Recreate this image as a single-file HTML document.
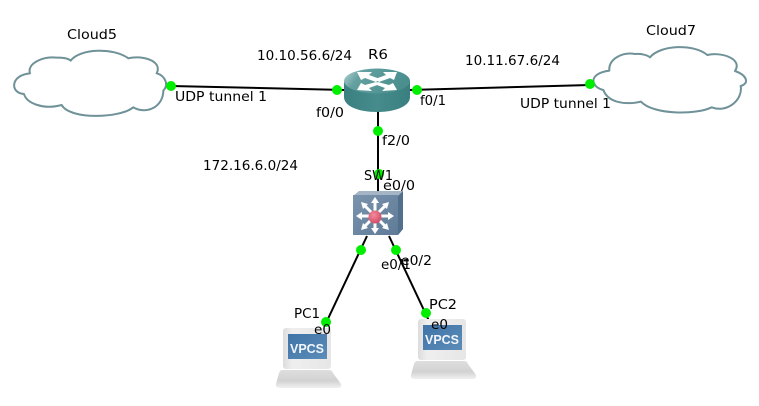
<!DOCTYPE html>
<html><head><meta charset="utf-8"><style>
html,body{margin:0;padding:0;background:#fff;width:759px;height:406px;overflow:hidden}
svg{display:block}
text{font-family:"DejaVu Sans","Liberation Sans",sans-serif;font-size:13.5px;fill:#000}
</style></head><body>
<svg width="759" height="406" viewBox="0 0 759 406" xmlns="http://www.w3.org/2000/svg">
<defs>
<linearGradient id="rt" x1="0" y1="0" x2="1" y2="0.3"><stop offset="0" stop-color="#b9d6d6"/><stop offset=".3" stop-color="#64a0a0"/><stop offset="1" stop-color="#4a8e8e"/></linearGradient>
<linearGradient id="rs" x1="0" y1="0" x2="1" y2="0"><stop offset="0" stop-color="#3a8080"/><stop offset=".5" stop-color="#468c8c"/><stop offset="1" stop-color="#3a7f7f"/></linearGradient>
<linearGradient id="sw" x1="0" y1="0" x2="1" y2="1"><stop offset="0" stop-color="#7b93ad"/><stop offset="1" stop-color="#5f7b97"/></linearGradient>
<linearGradient id="base" x1="0" y1="0" x2="0" y2="1"><stop offset="0" stop-color="#dedede"/><stop offset=".6" stop-color="#d2d2d2"/><stop offset="1" stop-color="#f0f0f0"/></linearGradient>
<linearGradient id="mon" x1="0" y1="0" x2="1" y2="0"><stop offset="0" stop-color="#dcdcdc"/><stop offset=".2" stop-color="#efefef"/><stop offset="1" stop-color="#e6e6e6"/></linearGradient>
<linearGradient id="scr" x1="0" y1="0" x2="1" y2="1"><stop offset="0" stop-color="#3f74a8"/><stop offset="1" stop-color="#5c8cb8"/></linearGradient>
<radialGradient id="red" cx=".4" cy=".35" r=".7"><stop offset="0" stop-color="#f58a9c"/><stop offset="1" stop-color="#cf4a64"/></radialGradient>
<g id="vpcs">
<path d="M4,41 H51 Q54,41 55,44 L63,55 Q64,59 59,59 H3 Q-3,59 -2,55 L1,44 Q2,41 4,41 Z" fill="url(#base)"/>
<rect x="5" y="-1" width="48" height="41" rx="3" fill="url(#mon)"/>
<rect x="10" y="5" width="39" height="25" fill="url(#scr)"/>
<text x="12" y="24" style="font-family:'Liberation Sans',sans-serif;font-size:13px;font-weight:bold;fill:#f2f6fa" textLength="34" lengthAdjust="spacingAndGlyphs">VPCS</text>
</g>
</defs>

<!-- clouds -->
<g transform="translate(0,20) scale(.3333)" fill="#fff" stroke="#6f9198" stroke-width="6" stroke-linejoin="round">
<path d="M90,160 C80,130 130,108 170,113 C185,112 205,115 212,122 C240,85 340,82 385,115 C420,105 490,120 470,160 C490,165 510,190 490,212 C490,260 440,285 400,262 C360,295 210,300 185,255 C130,270 80,250 72,222 C30,220 30,165 90,160 Z"/>
</g>
<g transform="translate(570,20) scale(.3333)" fill="#fff" stroke="#6f9198" stroke-width="6" stroke-linejoin="round">
<path d="M118,152 C115,115 160,95 195,102 C212,100 232,105 240,112 C270,75 370,70 412,105 C450,95 520,115 495,153 C530,165 540,190 512,198 C520,240 470,280 425,262 C380,285 250,285 213,245 C170,255 115,250 100,210 C60,200 55,160 118,152 Z"/>
</g>

<!-- links -->
<g stroke="#000" stroke-width="2" fill="none">
<line x1="171" y1="86" x2="345" y2="90"/>
<line x1="409" y1="90" x2="590" y2="85"/>
<line x1="378" y1="110" x2="378" y2="196"/>
<line x1="367" y1="236" x2="326" y2="323"/>
<line x1="389" y1="236" x2="430" y2="323"/>
</g>

<!-- router -->
<path d="M344,81 V97 C344,106 358,112 377,112 C396,112 410,106 410,97 V81 Z" fill="url(#rs)"/>
<ellipse cx="377" cy="81" rx="33" ry="12.5" fill="url(#rt)"/>
<g fill="#fff">
<path d="M357,72 L372,72 L369,75 L380,79 L376,82 L365,78 L361,80 Z"/>
<path d="M397,90 L382,91 L385,88 L374,84 L378,82 L389,85 L393,83 Z"/>
<path d="M397,72 L383,72 L386,75 L375,79 L379,82 L390,78 L394,80 Z"/>
<path d="M357,90 L372,91 L369,88 L380,84 L376,82 L365,85 L361,83 Z"/>
</g>

<!-- switch -->
<path d="M353,196 L359,191 H403 V229 L398,235 Z" fill="#a5b5c6"/>
<path d="M398,196 L403,191 V229 L398,235 Z" fill="#52708c"/>
<rect x="353" y="195" width="45" height="40" fill="url(#sw)"/>
<g stroke="#fff" stroke-width="3" fill="#fff">
<line x1="375" y1="216" x2="375" y2="202"/><line x1="375" y1="216" x2="375" y2="230"/>
<line x1="375" y1="216" x2="359" y2="216"/><line x1="375" y1="216" x2="391" y2="216"/>
<line x1="375" y1="216" x2="364" y2="205"/><line x1="375" y1="216" x2="386" y2="205"/>
<line x1="375" y1="216" x2="364" y2="227"/><line x1="375" y1="216" x2="386" y2="227"/>
</g>
<g fill="#fff" stroke="none">
<path d="M375,197 L379,203 H371 Z"/><path d="M375,234 L379,228 H371 Z"/>
<path d="M356,216 L362,212 V220 Z"/><path d="M394,216 L388,212 V220 Z"/>
<path d="M361,202 L368,204 L363,209 Z"/><path d="M389,202 L382,204 L387,209 Z"/>
<path d="M361,230 L368,228 L363,223 Z"/><path d="M389,230 L382,228 L387,223 Z"/>
</g>
<circle cx="375" cy="217" r="6.5" fill="url(#red)"/>

<!-- PCs -->
<use href="#vpcs" x="278" y="329"/>
<use href="#vpcs" x="413" y="320"/>

<!-- ports -->
<g fill="#00ee00">
<circle cx="171" cy="86" r="5"/><circle cx="337" cy="90" r="5"/>
<circle cx="417" cy="90" r="5"/><circle cx="590" cy="84" r="5"/>
<circle cx="378" cy="131" r="5"/><circle cx="379" cy="174" r="5"/>
<circle cx="361" cy="250" r="5"/><circle cx="396" cy="250" r="5"/>
<circle cx="326" cy="322" r="5"/><circle cx="426" cy="313" r="5"/>
</g>

<!-- labels -->
<g lengthAdjust="spacingAndGlyphs">
<text x="67" y="39" textLength="50" lengthAdjust="spacingAndGlyphs">Cloud5</text>
<text x="646" y="35" textLength="50" lengthAdjust="spacingAndGlyphs">Cloud7</text>
<text x="257" y="60" textLength="95" lengthAdjust="spacingAndGlyphs">10.10.56.6/24</text>
<text x="368" y="59" textLength="20" lengthAdjust="spacingAndGlyphs">R6</text>
<text x="465" y="65" textLength="95" lengthAdjust="spacingAndGlyphs">10.11.67.6/24</text>
<text x="175" y="101" textLength="92" lengthAdjust="spacingAndGlyphs">UDP tunnel 1</text>
<text x="520" y="108" textLength="91" lengthAdjust="spacingAndGlyphs">UDP tunnel 1</text>
<text x="316" y="117" textLength="28" lengthAdjust="spacingAndGlyphs">f0/0</text>
<text x="420" y="105" textLength="26" lengthAdjust="spacingAndGlyphs">f0/1</text>
<text x="382" y="145" textLength="28" lengthAdjust="spacingAndGlyphs">f2/0</text>
<text x="203" y="170" textLength="95" lengthAdjust="spacingAndGlyphs">172.16.6.0/24</text>
<text x="364" y="180" textLength="29" lengthAdjust="spacingAndGlyphs">SW1</text>
<text x="383" y="190" textLength="32" lengthAdjust="spacingAndGlyphs">e0/0</text>
<text x="381" y="269" textLength="30" lengthAdjust="spacingAndGlyphs">e0/1</text>
<text x="401" y="265" textLength="31" lengthAdjust="spacingAndGlyphs">e0/2</text>
<text x="294" y="318" textLength="26" lengthAdjust="spacingAndGlyphs">PC1</text>
<text x="429" y="309" textLength="28" lengthAdjust="spacingAndGlyphs">PC2</text>
<text x="314" y="334" textLength="17" lengthAdjust="spacingAndGlyphs">e0</text>
<text x="431" y="329" textLength="17" lengthAdjust="spacingAndGlyphs">e0</text>
</g>
</svg>
</body></html>
